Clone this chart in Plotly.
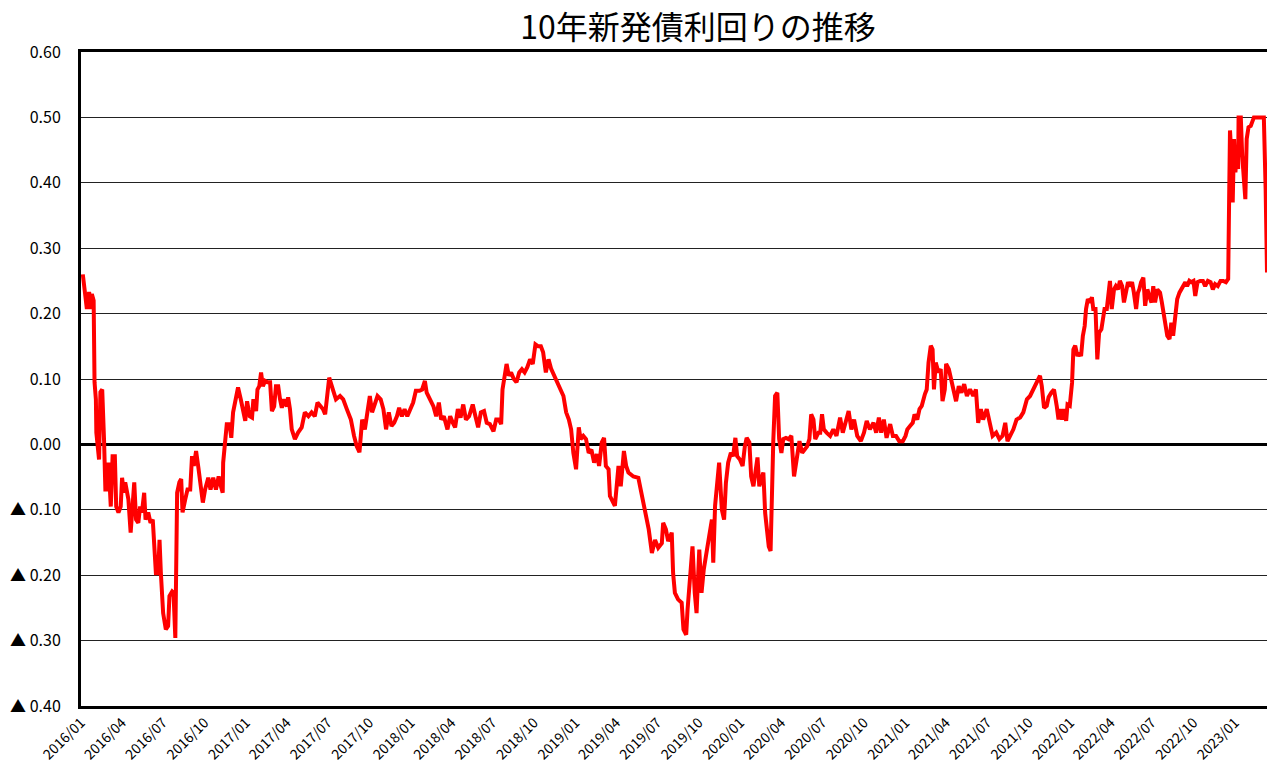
import plotly.graph_objects as go

title_text = "10年新発債利回りの推移"

dates = [
 "2016-01-05","2016-01-10","2016-01-14","2016-01-19","2016-01-23","2016-01-25","2016-01-29","2016-01-31",
 "2016-02-03","2016-02-04","2016-02-10","2016-02-13","2016-02-17","2016-02-21","2016-02-24","2016-02-28",
 "2016-03-02","2016-03-07","2016-03-11","2016-03-16","2016-03-19","2016-03-24","2016-03-29",
 "2016-04-01","2016-04-05","2016-04-08","2016-04-15","2016-04-20","2016-04-25","2016-04-28",
 "2016-05-02","2016-05-07","2016-05-11","2016-05-15","2016-05-20","2016-05-23","2016-05-29",
 "2016-06-03","2016-06-08","2016-06-11","2016-06-15","2016-06-20","2016-06-23","2016-06-26","2016-06-29",
 "2016-07-01","2016-07-07","2016-07-12","2016-07-15","2016-07-21","2016-07-24","2016-07-28",
 "2016-08-01","2016-08-06","2016-08-10","2016-08-13","2016-08-19","2016-08-24","2016-08-30",
 "2016-09-03","2016-09-07","2016-09-12","2016-09-17","2016-09-22","2016-09-27",
 "2016-10-02","2016-10-09","2016-10-14","2016-10-20","2016-10-26",
 "2016-11-01","2016-11-06","2016-11-10","2016-11-11","2016-11-16","2016-11-19","2016-11-25","2016-11-29",
 "2016-12-03","2016-12-09","2016-12-14","2016-12-20","2016-12-26","2016-12-30",
 "2017-01-03","2017-01-09","2017-01-14","2017-01-17","2017-01-23","2017-01-26","2017-01-30",
 "2017-02-03","2017-02-07","2017-02-12","2017-02-17","2017-02-23","2017-02-27",
 "2017-03-04","2017-03-08","2017-03-13","2017-03-17","2017-03-21","2017-03-26",
 "2017-04-01","2017-04-04","2017-04-08","2017-04-12","2017-04-19","2017-04-26",
 "2017-05-04","2017-05-11","2017-05-19","2017-05-26",
 "2017-06-02","2017-06-08","2017-06-14","2017-06-20","2017-06-25","2017-06-30",
 "2017-07-04","2017-07-12","2017-07-19","2017-07-28",
 "2017-08-04","2017-08-12","2017-08-21","2017-08-28",
 "2017-09-03","2017-09-09","2017-09-15","2017-09-21","2017-09-26",
 "2017-10-02","2017-10-07","2017-10-13","2017-10-19","2017-10-26",
 "2017-11-01","2017-11-07","2017-11-13","2017-11-19","2017-11-25",
 "2017-12-01","2017-12-06","2017-12-12","2017-12-18","2017-12-24","2017-12-30",
 "2018-01-06","2018-01-12","2018-01-20","2018-01-26",
 "2018-02-01","2018-02-05","2018-02-12","2018-02-20","2018-02-26",
 "2018-03-04","2018-03-09","2018-03-15","2018-03-23","2018-03-29",
 "2018-04-04","2018-04-09","2018-04-15","2018-04-21","2018-04-27",
 "2018-05-03","2018-05-10","2018-05-18","2018-05-24","2018-05-30",
 "2018-06-05","2018-06-12","2018-06-18","2018-06-25",
 "2018-07-03","2018-07-09","2018-07-15","2018-07-20","2018-07-23","2018-07-26",
 "2018-08-01","2018-08-06","2018-08-11","2018-08-17","2018-08-23","2018-08-29",
 "2018-09-04","2018-09-10","2018-09-16","2018-09-22","2018-09-28",
 "2018-10-04","2018-10-10","2018-10-16","2018-10-21","2018-10-27",
 "2018-11-02","2018-11-08","2018-11-14","2018-11-20","2018-11-27",
 "2018-12-05","2018-12-11","2018-12-17","2018-12-22","2018-12-27",
 "2019-01-02","2019-01-08","2019-01-12","2019-01-18","2019-01-24","2019-01-30",
 "2019-02-05","2019-02-11","2019-02-17","2019-02-22","2019-02-28",
 "2019-03-05","2019-03-09","2019-03-15","2019-03-18","2019-03-29",
 "2019-04-06","2019-04-11","2019-04-18","2019-04-23","2019-04-28",
 "2019-05-09","2019-05-20","2019-05-25","2019-05-31",
 "2019-06-06","2019-06-12","2019-06-19","2019-06-26",
 "2019-07-03","2019-07-11","2019-07-14","2019-07-20","2019-07-25",
 "2019-08-02","2019-08-05","2019-08-09","2019-08-16","2019-08-24","2019-08-28",
 "2019-09-03","2019-09-06","2019-09-11","2019-09-17","2019-09-22","2019-09-26",
 "2019-10-02","2019-10-07","2019-10-12","2019-10-18","2019-10-24","2019-10-30",
 "2019-11-02","2019-11-06","2019-11-11","2019-11-15","2019-11-21","2019-11-26","2019-11-30",
 "2019-12-05","2019-12-11","2019-12-16","2019-12-21","2019-12-25","2019-12-31",
 "2020-01-06","2020-01-11","2020-01-15","2020-01-21","2020-01-25","2020-01-30",
 "2020-02-03","2020-02-08","2020-02-12","2020-02-16","2020-02-21","2020-02-25",
 "2020-03-01","2020-03-04","2020-03-08","2020-03-11","2020-03-14","2020-03-18","2020-03-23","2020-03-27",
 "2020-04-01","2020-04-05","2020-04-11","2020-04-17","2020-04-23","2020-04-29",
 "2020-05-05","2020-05-11","2020-05-17","2020-05-23","2020-05-28",
 "2020-06-02","2020-06-06","2020-06-11","2020-06-15","2020-06-22","2020-06-26","2020-06-30",
 "2020-07-04","2020-07-10","2020-07-18","2020-07-25",
 "2020-08-01","2020-08-09","2020-08-15","2020-08-21","2020-08-28",
 "2020-09-03","2020-09-09","2020-09-16","2020-09-24",
 "2020-10-01","2020-10-07","2020-10-14","2020-10-22","2020-10-28",
 "2020-11-03","2020-11-08","2020-11-14","2020-11-20","2020-11-28",
 "2020-12-04","2020-12-11","2020-12-18","2020-12-26",
 "2021-01-01","2021-01-05","2021-01-11","2021-01-17","2021-01-21","2021-01-27",
 "2021-02-01","2021-02-06","2021-02-13","2021-02-17","2021-02-21","2021-02-26",
 "2021-03-02","2021-03-05","2021-03-09","2021-03-15","2021-03-20","2021-03-24","2021-03-29",
 "2021-04-01","2021-04-07","2021-04-12","2021-04-17","2021-04-23","2021-04-29",
 "2021-05-05","2021-05-11","2021-05-17","2021-05-24","2021-05-31",
 "2021-06-06","2021-06-11","2021-06-17","2021-06-22","2021-06-30",
 "2021-07-07","2021-07-13","2021-07-21","2021-07-28",
 "2021-08-04","2021-08-10","2021-08-15","2021-08-21","2021-08-28",
 "2021-09-04","2021-09-12","2021-09-19","2021-09-27",
 "2021-10-04","2021-10-11","2021-10-19","2021-10-26","2021-10-30",
 "2021-11-04","2021-11-10","2021-11-14","2021-11-20","2021-11-26",
 "2021-12-02","2021-12-06","2021-12-09","2021-12-14","2021-12-18","2021-12-23","2021-12-26","2021-12-31",
 "2022-01-05","2022-01-08","2022-01-12","2022-01-17","2022-01-21","2022-01-25","2022-01-29",
 "2022-02-02","2022-02-05","2022-02-09","2022-02-14","2022-02-18","2022-02-21","2022-02-26",
 "2022-03-02","2022-03-06","2022-03-11","2022-03-14","2022-03-18","2022-03-23","2022-03-27","2022-03-30",
 "2022-04-03","2022-04-08","2022-04-12","2022-04-17","2022-04-21","2022-04-26","2022-04-30",
 "2022-05-05","2022-05-09","2022-05-13","2022-05-18","2022-05-22","2022-05-27","2022-05-31",
 "2022-06-03","2022-06-07","2022-06-12","2022-06-16","2022-06-21","2022-06-25","2022-06-30",
 "2022-07-04","2022-07-08","2022-07-13","2022-07-19","2022-07-23","2022-07-28",
 "2022-08-01","2022-08-04","2022-08-09","2022-08-13","2022-08-17","2022-08-22","2022-08-26","2022-08-31",
 "2022-09-04","2022-09-09","2022-09-13","2022-09-17","2022-09-22","2022-09-26",
 "2022-10-01","2022-10-05","2022-10-10","2022-10-16","2022-10-22","2022-10-27",
 "2022-11-02","2022-11-08","2022-11-13","2022-11-18","2022-11-24","2022-11-30",
 "2022-12-06","2022-12-12","2022-12-17","2022-12-19","2022-12-21","2022-12-24","2022-12-27","2022-12-30",
 "2023-01-02","2023-01-05","2023-01-08","2023-01-09","2023-01-14","2023-01-17","2023-01-20","2023-01-24",
 "2023-01-27","2023-01-31",
 "2023-02-05","2023-02-08","2023-02-12","2023-02-25",
 "2023-03-06","2023-03-10","2023-03-13",
]

yields = [
 0.26,0.233,0.207,0.233,0.207,0.23,0.22,0.095,
 0.069,0.018,-0.023,0.08,0.084,0.008,-0.069,-0.069,
 -0.028,-0.095,-0.018,-0.018,-0.095,-0.104,-0.095,
 -0.051,-0.074,-0.058,-0.084,-0.135,-0.084,-0.058,
 -0.115,-0.12,-0.095,-0.104,-0.074,-0.115,-0.104,
 -0.12,-0.115,-0.156,-0.197,-0.197,-0.146,-0.197,-0.232,
 -0.258,-0.283,-0.278,-0.232,-0.225,-0.227,-0.296,
 -0.074,-0.058,-0.053,-0.104,-0.084,-0.069,-0.069,
 -0.018,-0.033,-0.01,-0.035,-0.064,-0.089,
 -0.069,-0.051,-0.069,-0.051,-0.069,
 -0.049,-0.064,-0.074,-0.028,0.008,0.031,0.031,0.01,
 0.049,0.069,0.087,0.069,0.049,0.036,
 0.066,0.043,0.041,0.069,0.051,0.084,0.089,
 0.11,0.089,0.097,0.095,0.095,0.051,
 0.058,0.089,0.089,0.069,0.056,0.069,
 0.058,0.072,0.054,0.023,0.008,0.018,
 0.026,0.049,0.043,0.049,
 0.043,0.064,0.058,0.054,0.046,0.08,
 0.102,0.084,0.069,0.074,
 0.069,0.054,0.038,0.013,
 -0.003,-0.012,0.038,0.023,0.049,
 0.074,0.049,0.064,0.074,0.069,
 0.054,0.023,0.049,0.028,0.033,
 0.043,0.056,0.043,0.054,0.043,0.054,
 0.064,0.082,0.082,0.084,
 0.097,0.079,0.069,0.058,0.043,
 0.064,0.038,0.043,0.023,0.043,
 0.033,0.026,0.054,0.041,0.061,
 0.038,0.043,0.061,0.043,0.026,
 0.049,0.051,0.033,0.031,
 0.020,0.038,0.038,0.031,0.084,0.1,
 0.123,0.105,0.11,0.1,0.095,0.11,
 0.115,0.11,0.118,0.13,0.123,
 0.153,0.15,0.15,0.141,0.11,
 0.13,0.115,0.105,0.095,0.084,
 0.074,0.049,0.038,0.023,-0.013,
 -0.038,0.026,0.008,0.013,0.008,-0.013,
 -0.008,-0.028,-0.015,-0.033,0.003,
 0.01,-0.033,-0.038,-0.079,-0.094,
 -0.033,-0.064,-0.010,-0.033,-0.043,
 -0.049,-0.051,-0.069,-0.094,
 -0.115,-0.130,-0.166,-0.146,
 -0.158,-0.151,-0.120,-0.130,-0.148,
 -0.135,-0.197,-0.227,-0.237,-0.242,-0.283,
 -0.291,-0.253,-0.207,-0.156,-0.227,-0.258,
 -0.161,-0.227,-0.191,-0.161,-0.140,-0.115,
 -0.181,-0.094,-0.064,-0.028,-0.1,-0.115,-0.059,
 -0.028,-0.013,-0.018,0.010,-0.018,-0.023,
 -0.033,-0.003,0.010,0.003,-0.049,-0.064,
 -0.043,-0.020,-0.064,-0.054,-0.043,-0.105,
 -0.130,-0.156,-0.163,-0.069,0.005,0.074,0.079,0.008,
 -0.013,0.008,0.010,0.008,0.013,-0.049,
 -0.018,0.005,-0.013,-0.008,-0.003,
 0.008,0.046,0.038,0.008,0.018,0.018,0.046,
 0.023,0.018,0.013,0.023,
 0.013,0.041,0.018,0.033,0.051,
 0.023,0.038,0.013,0.005,
 0.018,0.036,0.023,0.033,0.018,
 0.041,0.018,0.038,0.010,0.031,
 0.013,0.013,0.005,0.005,
 0.013,0.023,0.028,0.033,0.046,0.038,
 0.054,0.059,0.077,0.084,0.125,0.151,
 0.145,0.084,0.125,0.110,0.115,0.066,0.084,
 0.123,0.115,0.1,0.079,0.066,0.089,
 0.079,0.092,0.074,0.084,0.074,
 0.084,0.033,0.054,0.038,0.054,
 0.033,0.013,0.018,0.008,
 0.013,0.033,0.005,0.013,0.023,
 0.038,0.041,0.049,0.069,
 0.074,0.084,0.092,0.105,0.089,
 0.056,0.059,0.072,0.079,0.084,
 0.059,0.038,0.054,0.038,0.054,0.036,0.061,0.059,
 0.094,0.145,0.151,0.135,0.140,0.135,0.166,
 0.181,0.207,0.222,0.217,0.225,0.207,0.207,
 0.130,0.171,0.176,0.191,0.207,0.207,0.232,0.250,
 0.207,0.237,0.242,0.237,0.250,0.242,0.217,
 0.235,0.248,0.242,0.248,0.232,0.207,0.232,
 0.237,0.248,0.255,0.212,0.237,0.227,0.217,
 0.242,0.217,0.237,0.232,0.217,0.196,
 0.176,0.166,0.161,0.186,0.166,0.202,0.222,0.232,
 0.237,0.242,0.248,0.242,0.250,0.248,
 0.250,0.227,0.248,0.250,0.250,0.242,
 0.250,0.248,0.237,0.245,0.242,0.250,
 0.250,0.248,0.253,0.370,0.480,0.442,0.370,0.467,
 0.416,0.442,0.421,0.500,0.500,0.442,0.406,0.375,
 0.467,0.485,
 0.487,0.495,0.500,0.500,
 0.500,0.390,0.263,
]

y_tickvals = [0.6, 0.5, 0.4, 0.3, 0.2, 0.1, 0.0, -0.1, -0.2, -0.3, -0.4]
y_ticktext = ["0.60", "0.50", "0.40", "0.30", "0.20", "0.10", "0.00",
              "▲ 0.10", "▲ 0.20", "▲ 0.30", "▲ 0.40"]

x_tickvals = ["2016-01-01","2016-04-01","2016-07-01","2016-10-01",
              "2017-01-01","2017-04-01","2017-07-01","2017-10-01",
              "2018-01-01","2018-04-01","2018-07-01","2018-10-01",
              "2019-01-01","2019-04-01","2019-07-01","2019-10-01",
              "2020-01-01","2020-04-01","2020-07-01","2020-10-01",
              "2021-01-01","2021-04-01","2021-07-01","2021-10-01",
              "2022-01-01","2022-04-01","2022-07-01","2022-10-01",
              "2023-01-01"]
x_ticktext = [d[:7].replace("-", "/") for d in x_tickvals]

x_range = ["2016-01-01", "2023-03-13"]
y_range = [-0.4, 0.6]

font_family = "Noto Sans CJK JP, Noto Sans, sans-serif"

fig = go.Figure()
fig.add_trace(go.Scatter(
    x=dates, y=yields, mode="lines",
    line=dict(color="#FF0000", width=4),
    showlegend=False,
))

fig.update_layout(
    width=1267, height=769,
    margin=dict(l=81, r=0, t=52, b=63),
    paper_bgcolor="white", plot_bgcolor="white",
    font=dict(family=font_family, color="black"),
    title=dict(text=title_text, x=698 / 1267, xref="container", xanchor="center",
               y=1 - 28 / 769, yref="container", yanchor="middle",
               font=dict(size=32, family=font_family, color="black")),
)

fig.update_xaxes(
    type="date", range=x_range,
    tickvals=x_tickvals, ticktext=x_ticktext, tickangle=-45,
    tickfont=dict(size=14, family=font_family, color="black"),
    showgrid=False, showline=True, linecolor="black", linewidth=3,
    mirror=True, ticks="", zeroline=False,
)
fig.update_yaxes(
    range=y_range, tickvals=y_tickvals, ticktext=y_ticktext,
    tickfont=dict(size=16, family=font_family, color="black"),
    showgrid=True, gridcolor="#222222", gridwidth=1,
    zeroline=True, zerolinecolor="black", zerolinewidth=3,
    showline=True, linecolor="black", linewidth=3, mirror=False,
    ticks="outside", ticklen=14, tickcolor="rgba(0,0,0,0)",
)

fig.write_html("out.html", config={"displayModeBar": False},
               post_script="document.body.style.margin='0px';")
